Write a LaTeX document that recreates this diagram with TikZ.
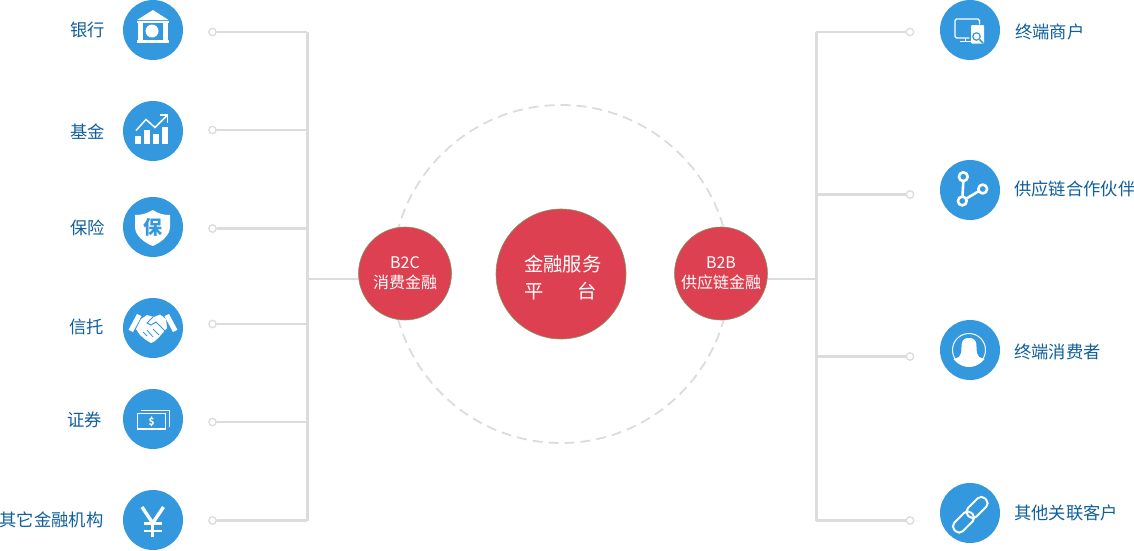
\documentclass[tikz,border=0pt]{standalone}
\usepackage{fontspec}
\setmainfont{Noto Sans CJK SC}
\usetikzlibrary{calc}

\definecolor{iconblue}{HTML}{3498DF}
\definecolor{labelblue}{HTML}{0F5F9B}
\definecolor{hubred}{HTML}{DD4050}
\definecolor{hubedge}{HTML}{7F9A68}
\definecolor{linegray}{HTML}{DCDCDC}

\tikzset{
	icon/.style={circle, fill=iconblue, minimum size=60pt, inner sep=0pt},
	dot/.style={circle, draw=linegray, fill=white, line width=1.3pt, minimum size=7.5pt, inner sep=0pt},
	itemtext/.style={text=labelblue, font=\fontsize{17.3}{20}\selectfont, inner sep=0pt},
	hub/.style={circle, draw=hubedge, fill=hubred, line width=0.6pt, text=white, inner sep=0pt, align=center},
	trunk/.style={draw=linegray, line width=3pt},
	branch/.style={draw=linegray, line width=2.5pt},
	glyph/.style={draw=white, line width=2pt, line cap=round, line join=round}
}

\begin{document}
\begin{tikzpicture}[x=1pt, y=-1pt]
	\useasboundingbox (0, 0) rectangle (1134, 550);

	\path (561, 274) node[circle, draw=linegray, dash pattern=on 10pt off 6pt, line width=1.8pt, minimum size=338pt, inner sep=0pt] (ring) {};

	% left side
	\path (153, 30) node[icon] (bank) {}
		(153, 131) node[icon] (fund) {}
		(153, 227) node[icon] (insurance) {}
		(153, 328) node[icon] (trust) {}
		(153, 419) node[icon] (securities) {}
		(153, 520) node[icon] (other) {};

	\path (105, 30) node[itemtext, anchor=east] (banktext) {银行}
		(105, 132) node[itemtext, anchor=east] (fundtext) {基金}
		(105, 228) node[itemtext, anchor=east] (insurancetext) {保险}
		(104, 327) node[itemtext, anchor=east] (trusttext) {信托}
		(102, 420) node[itemtext, anchor=east] (securitiestext) {证券}
		(103.5, 520) node[itemtext, anchor=east] (othertext) {其它金融机构};

	\path (212.5, 32) node[dot] (bankdot) {}
		(212.5, 130) node[dot] (funddot) {}
		(212.5, 228.5) node[dot] (insurancedot) {}
		(212.5, 324) node[dot] (trustdot) {}
		(212.5, 422) node[dot] (securitiesdot) {}
		(212.5, 520.5) node[dot] (otherdot) {};

	\coordinate (l1) at (307, 32);
	\coordinate (l2) at (307, 130);
	\coordinate (l3) at (307, 228.5);
	\coordinate (l4) at (307, 324);
	\coordinate (l5) at (307, 422);
	\coordinate (l6) at (307, 520.5);
	\coordinate (lhub) at (307, 279);

	% right side
	\path (970, 30) node[icon] (merchant) {}
		(970, 190) node[icon] (partner) {}
		(970, 350) node[icon] (consumer) {}
		(970, 513) node[icon] (client) {};

	\path (1015, 32) node[itemtext, anchor=west] (merchanttext) {终端商户}
		(1014, 188.5) node[itemtext, anchor=west] (partnertext) {供应链合作伙伴}
		(1014, 351.5) node[itemtext, anchor=west] (consumertext) {终端消费者}
		(1014, 513) node[itemtext, anchor=west] (clienttext) {其他关联客户};

	\path (910, 32) node[dot] (merchantdot) {}
		(910, 194.5) node[dot] (partnerdot) {}
		(910, 356.5) node[dot] (consumerdot) {}
		(910, 520.5) node[dot] (clientdot) {};

	\coordinate (r1) at (816, 32);
	\coordinate (r2) at (816, 194.5);
	\coordinate (r3) at (816, 356.5);
	\coordinate (r4) at (816, 520.5);
	\coordinate (rhub) at (816, 279);

	% hubs
	\path (561, 274) node[hub, minimum size=130pt] (platform) {}
		(405, 273.5) node[hub, minimum size=93pt, font=\fontsize{16}{20}\selectfont] (b2c) {B2C\\消费金融}
		(721, 273.5) node[hub, minimum size=93pt, font=\fontsize{16}{20}\selectfont] (b2b) {B2B\\供应链金融};
	\path (524, 277.5) node[anchor=west, text=white, inner sep=0pt, align=left, font=\fontsize{19.3}{27}\selectfont] (platformtext) {金融服务\\平\hspace{34pt}台};

	\draw[trunk] (l1) -- (l6);
	\draw[trunk] (r1) -- (r4);
	\draw[branch] (bankdot) -- (l1);
	\draw[branch] (funddot) -- (l2);
	\draw[branch] (insurancedot) -- (l3);
	\draw[branch] (trustdot) -- (l4);
	\draw[branch] (securitiesdot) -- (l5);
	\draw[branch] (otherdot) -- (l6);
	\draw[branch] (merchantdot) -- (r1);
	\draw[branch] (partnerdot) -- (r2);
	\draw[branch] (consumerdot) -- (r3);
	\draw[branch] (clientdot) -- (r4);
	\draw[branch] (lhub) -- (b2c.west |- lhub);
	\draw[branch] (rhub) -- (b2b.east |- rhub);

	% bank icon
	\fill[white] (153, 10) -- (168.5, 20) -- (137, 20) -- cycle;
	\fill[white] (137, 20.5) rectangle (168.5, 23);
	\fill[white] (138, 23) rectangle (143, 40);
	\fill[white] (162.5, 23) rectangle (167.5, 40);
	\fill[white] (137, 40) rectangle (168.5, 43);
	\fill[white] (152, 31) circle (6.5);

	% fund icon
	\fill[white] (135, 136) rectangle (140.7, 144);
	\fill[white] (144, 130) rectangle (149.7, 144);
	\fill[white] (153, 133.5) rectangle (158.7, 144);
	\fill[white] (161.7, 127) rectangle (167.7, 144);
	\draw[glyph, line width=1.5pt, line cap=butt, line join=miter] (136, 130.5) -- (146, 119.5) -- (155, 127.5) -- (167, 115.5);
	\draw[glyph, line width=1.5pt, line cap=butt, line join=miter] (160, 115) -- (167.7, 115) -- (167.7, 123);

	% insurance icon
	\fill[white] (152.7, 210) .. controls (146, 214) and (141, 215) .. (135, 215) -- (135, 227) .. controls (135, 236) and (145, 243) .. (152.7, 246) .. controls (160, 243) and (170, 236) .. (170, 227) -- (170, 215) .. controls (164, 215) and (159, 214) .. (152.7, 210) -- cycle;
	\path (152.5, 227) node[text=iconblue, font=\fontsize{19}{20}\selectfont\bfseries, inner sep=0pt] (shieldtext) {保};

	% trust icon
	\fill[white, rotate around={-28:(135, 323)}] (132.5, 314) rectangle (137.5, 332);
	\fill[white, rotate around={28:(171, 323)}] (168.5, 314) rectangle (173.5, 332);
	\fill[white] (141, 319) -- (147, 315) -- (154, 317) -- (160, 314.5) -- (166, 319) -- (167, 328) -- (160, 336) -- (155, 341) -- (151, 343) -- (146, 340) -- (140, 335) -- (136, 329) -- cycle;
	\draw[iconblue, line width=1pt] (153, 317) -- (147, 323) -- (151, 325) -- (156, 322) -- (165, 331);
	\draw[iconblue, line width=0.8pt] (143, 332) -- (147, 336);
	\draw[iconblue, line width=0.8pt] (147, 330) -- (153, 337);
	\draw[iconblue, line width=0.8pt] (153, 329) -- (159, 335);

	% securities icon
	\draw[white, line width=1.3pt] (137.5, 413.5) rectangle (165.5, 429);
	\draw[white, line width=1pt] (141, 410.5) -- (169.5, 410.5) -- (169.5, 426.5);
	\path (151.7, 421.5) node[text=white, font=\fontsize{10}{10}\selectfont\bfseries, inner sep=0pt] (moneytext) {\$};

	% other icon
	\draw[glyph, line width=3.4pt, line cap=butt, line join=miter] (142, 507) -- (152.7, 523) -- (163.5, 507);
	\draw[glyph, line width=3.4pt, line cap=butt] (152.7, 523) -- (152.7, 537);
	\draw[glyph, line width=2.8pt, line cap=butt] (144, 523.5) -- (162, 523.5);
	\draw[glyph, line width=2.8pt, line cap=butt] (144, 531) -- (162, 531);

	% merchant icon
	\draw[glyph, line width=1.3pt, rounded corners=1.5pt] (969, 38) -- (955, 38) -- (955, 19) -- (979.5, 19) -- (979.5, 24);
	\draw[glyph, line width=1.3pt, line cap=butt] (965.5, 38) -- (965.5, 41.5);
	\draw[glyph, line width=1.3pt, line cap=butt] (960, 41.7) -- (971, 41.7);
	\fill[white, rounded corners=1pt] (971, 25) rectangle (984, 43.5);
	\draw[iconblue, line width=1.2pt] (976.5, 36.5) circle (3.7);
	\draw[iconblue, line width=1.5pt] (979.5, 39.5) -- (983, 43);

	% partner icon
	\draw[glyph, line width=2.6pt] (963.3, 181) -- (962.5, 196.5);
	\draw[glyph, line width=2.6pt] (966.5, 198.5) -- (979, 191);
	\draw[glyph, line width=2.6pt] (963.3, 176.7) circle (4.4);
	\draw[glyph, line width=2.6pt] (982.7, 189) circle (4.4);
	\draw[glyph, line width=2.6pt] (962.3, 201) circle (4.4);

	% consumer icon
	\draw[white, line width=1pt] (969, 350) circle (16.5);
	\fill[white] (969, 338) .. controls (962, 338) and (961.5, 343) .. (961.5, 347) .. controls (961.5, 352) and (961, 355) .. (959, 357) -- (953.5, 359) .. controls (957, 364) and (963, 366.5) .. (969, 366.5) .. controls (975, 366.5) and (981, 364) .. (984.5, 359) -- (979, 357) .. controls (977, 355) and (976.5, 352) .. (976.5, 347) .. controls (976.5, 343) and (976, 338) .. (969, 338) -- cycle;

	% client icon
	\draw[white, line width=2pt, rounded corners=5pt, rotate around={45:(977, 507.5)}] (965, 501.5) rectangle (989, 513.5);
	\draw[white, line width=2pt, rounded corners=5pt, rotate around={45:(963.5, 522)}] (951.5, 516) rectangle (975.5, 528);
\end{tikzpicture}
\end{document}
